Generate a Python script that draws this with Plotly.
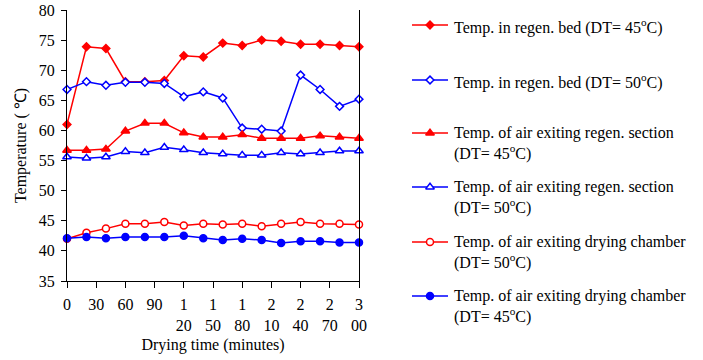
import plotly.graph_objects as go

# Drying time in minutes
time_min = [0, 20, 40, 60, 80, 100, 120, 140, 160, 180, 200, 220, 240, 260, 280, 300]

bed_45 = [61.0, 73.9, 73.6, 68.1, 68.1, 68.3, 72.4, 72.2, 74.5, 74.1, 75.0, 74.8, 74.3, 74.3, 74.1, 73.9]
bed_50 = [66.8, 68.1, 67.5, 68.0, 68.0, 67.8, 65.6, 66.4, 65.4, 60.4, 60.2, 59.9, 69.2, 66.8, 64.0, 65.2]
regen_air_45 = [56.7, 56.7, 56.9, 59.9, 61.2, 61.2, 59.6, 58.9, 58.9, 59.3, 58.7, 58.7, 58.7, 59.1, 58.9, 58.7]
regen_air_50 = [55.6, 55.4, 55.6, 56.5, 56.3, 57.2, 56.8, 56.3, 56.1, 55.9, 55.9, 56.3, 56.1, 56.3, 56.6, 56.6]
chamber_air_50 = [42.0, 43.0, 43.7, 44.5, 44.5, 44.8, 44.2, 44.5, 44.4, 44.5, 44.1, 44.5, 44.8, 44.5, 44.5, 44.4]
chamber_air_45 = [42.1, 42.3, 42.1, 42.3, 42.3, 42.3, 42.5, 42.1, 41.8, 42.0, 41.8, 41.3, 41.6, 41.6, 41.4, 41.4]

tick_vals = [0, 30, 60, 90, 120, 150, 180, 210, 240, 270, 300]
tick_text = ["0", "30", "60", "90", "1<br>20", "1<br>50", "1<br>80",
             "2<br>10", "2<br>40", "2<br>70", "3<br>00"]

RED = "#FF0000"
BLUE = "#0000FF"
FONT = "Times New Roman, Liberation Serif, serif"

series = [
    ("Temp. in regen. bed (DT= 45<sup>o</sup>C)", bed_45, RED, "diamond", RED, 6),
    ("Temp. in regen. bed (DT= 50<sup>o</sup>C)", bed_50, BLUE, "diamond", "white", 6),
    ("Temp. of air exiting regen. section<br>(DT= 45<sup>o</sup>C)", regen_air_45, RED, "triangle-up", RED, 7.5),
    ("Temp. of air exiting regen. section<br>(DT= 50<sup>o</sup>C)", regen_air_50, BLUE, "triangle-up", "white", 7.5),
    ("Temp. of air exiting drying chamber<br>(DT= 50<sup>o</sup>C)", chamber_air_50, RED, "circle", "white", 7),
    ("Temp. of air exiting drying chamber<br>(DT= 45<sup>o</sup>C)", chamber_air_45, BLUE, "circle", BLUE, 7),
]

W, H = 703, 360
# plot area in pixels
PL, PR, PT, PB = 67, 359, 10, 281


def fx(x):
    return x / W


def fy(y):
    return 1 - y / H


fig = go.Figure()

for name, vals, color, sym, fill, size in series:
    fig.add_trace(go.Scatter(
        x=time_min, y=vals, mode="lines+markers", name=name,
        line=dict(color=color, width=1.5),
        marker=dict(symbol=sym, size=size, color=fill,
                    line=dict(color=color, width=1.5)),
        showlegend=False, cliponaxis=False,
    ))

# Hand-built legend on a full-page pixel-scaled overlay axis
legend_rows = [25, 80, 133, 187, 242, 296]
for (name, vals, color, sym, fill, size), yrow in zip(series, legend_rows):
    fig.add_trace(go.Scatter(
        x=[412, 448], y=[yrow, yrow], mode="lines", xaxis="x2", yaxis="y2",
        line=dict(color=color, width=1.5), showlegend=False,
        cliponaxis=False, hoverinfo="skip",
    ))
    fig.add_trace(go.Scatter(
        x=[430], y=[yrow], mode="markers", xaxis="x2", yaxis="y2",
        marker=dict(symbol=sym, size=size, color=fill,
                    line=dict(color=color, width=1.5)),
        showlegend=False, cliponaxis=False, hoverinfo="skip",
    ))
    fig.add_annotation(
        x=fx(452), y=fy(yrow - 11), xref="paper", yref="paper",
        xanchor="left", yanchor="top", align="left", showarrow=False,
        text=name, font=dict(family=FONT, size=16, color="black"),
    )

fig.update_layout(
    width=W, height=H,
    margin=dict(l=0, r=0, t=0, b=0, pad=0),
    paper_bgcolor="white", plot_bgcolor="rgba(0,0,0,0)",
    font=dict(family=FONT, size=16, color="black"),
    xaxis=dict(
        domain=[fx(PL), fx(PR)], range=[0, 300],
        tickvals=tick_vals, ticktext=tick_text,
        ticks="outside", ticklen=6, tickcolor="black", tickwidth=1,
        ticklabelstandoff=3,
        showline=True, linecolor="black", linewidth=1,
        showgrid=False, zeroline=False, automargin=False,
        tickfont=dict(family=FONT, size=16),
        title=dict(text="Drying time (minutes)", font=dict(family=FONT, size=16), standoff=5),
    ),
    yaxis=dict(
        domain=[fy(PB), fy(PT)], range=[35, 80], dtick=5,
        ticks="outside", ticklen=5, tickcolor="black", tickwidth=1,
        ticklabelstandoff=3,
        showline=True, linecolor="black", linewidth=1, mirror=True,
        showgrid=False, zeroline=False, automargin=False,
        tickfont=dict(family=FONT, size=16),
        title=dict(text="Temperature ( ℃)", font=dict(family=FONT, size=16), standoff=8),
    ),
    xaxis2=dict(domain=[0, 1], range=[0, W], visible=False, fixedrange=True),
    yaxis2=dict(domain=[0, 1], range=[H, 0], anchor="x2",
                visible=False, fixedrange=True),
)

fig.write_html("out.html")
